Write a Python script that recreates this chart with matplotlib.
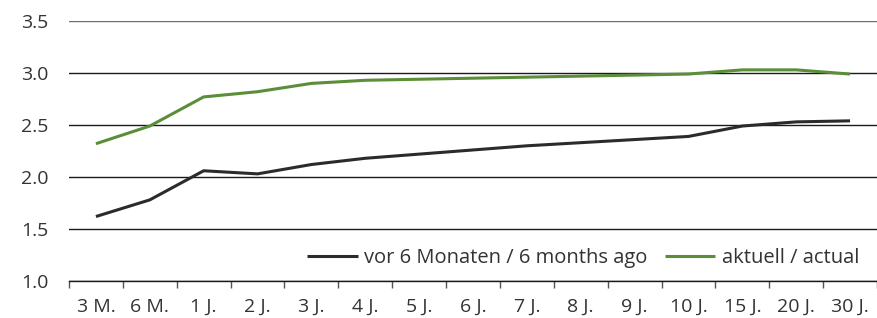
import matplotlib
matplotlib.use("Agg")
import matplotlib.pyplot as plt
import numpy as np

categories = ["3 M.", "6 M.", "1 J.", "2 J.", "3 J.", "4 J.", "5 J.", "6 J.", "7 J.", "8 J.", "9 J.", "10 J.", "15 J.", "20 J.", "30 J."]
vor_6_monaten = [1.62, 1.78, 2.06, 2.03, 2.12, 2.18, 2.22, 2.26, 2.30, 2.33, 2.36, 2.39, 2.49, 2.53, 2.54]
aktuell = [2.32, 2.49, 2.77, 2.82, 2.90, 2.93, 2.94, 2.95, 2.96, 2.97, 2.98, 2.99, 3.03, 3.03, 2.99]
y_ticks = [1.0, 1.5, 2.0, 2.5, 3.0, 3.5]

plt.rcParams['font.family'] = ['Open Sans', 'DejaVu Sans']
FS = 14

fig = plt.figure(figsize=(8.77, 3.18), dpi=100)
ax = fig.add_axes([69/877, 37/318, 808/877, 260/318])

x = np.arange(len(categories))
ax.plot(x, vor_6_monaten, color="#2b2b2b", lw=2.2, label="vor 6 Monaten / 6 months ago", solid_capstyle="butt")
ax.plot(x, aktuell, color="#5a8e38", lw=2.2, label="aktuell / actual", solid_capstyle="butt")

ax.set_xlim(-0.5, len(categories) - 0.5)
ax.set_ylim(1.0, 3.5)
ax.set_yticks(y_ticks)
ax.set_yticklabels([f"{v:.1f}" for v in y_ticks])
for v in y_ticks:
    ax.axhline(v, color="#6e6e6e" if v == 3.5 else "#1a1a1a", lw=1.0, zorder=0)

ax.set_xticks(x)
ax.set_xticklabels(categories)
ax.set_xticks(np.arange(len(categories) + 1) - 0.5, minor=True)
ax.tick_params(axis="x", which="major", length=0, pad=12, labelsize=FS, labelcolor="#333333")
ax.tick_params(axis="x", which="minor", length=5, width=1, color="#555555", direction="out")
ax.tick_params(axis="y", length=0, pad=15, labelsize=FS, labelcolor="#333333")

for s in ["top", "right", "left"]:
    ax.spines[s].set_visible(False)
ax.spines["bottom"].set_color("#1a1a1a")
ax.spines["bottom"].set_linewidth(1.0)

leg = ax.legend(loc="lower right", bbox_to_anchor=(1.0, -0.02), ncol=2, frameon=False,
                fontsize=14.5, handlelength=2.5, handletextpad=0.3, columnspacing=0.9,
                labelcolor="#333333")

fig.savefig("out.png", dpi=100)
